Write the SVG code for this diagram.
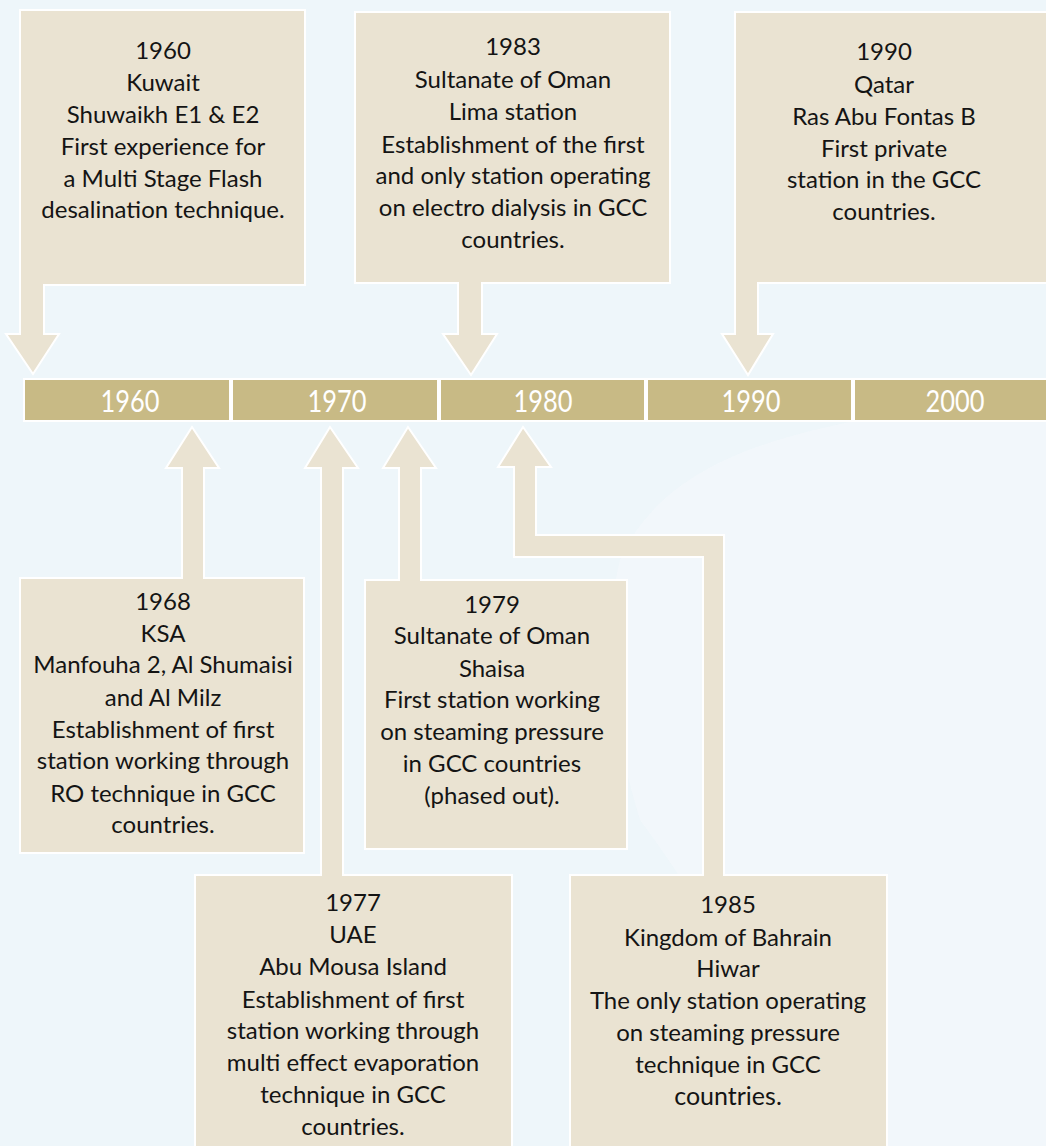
<svg xmlns="http://www.w3.org/2000/svg" width="1046" height="1146" viewBox="0 0 1046 1146">
<style>
.bg{fill:#EEF6FA}
.map{fill:#F5F9FB;opacity:0.6}
.call{fill:#EAE3D2;stroke:#FFFFFF;stroke-width:2;stroke-linejoin:miter}
.seg{fill:#C8BA85;stroke:#FFFFFF;stroke-width:2}
.t{font-family:Lato,"Open Sans","Liberation Sans",sans-serif;font-size:24px;fill:#141414;text-anchor:middle}
.y{font-family:Lato,"Open Sans","Liberation Sans",sans-serif;font-size:31px;font-weight:400;fill:#FFFFFF;text-anchor:middle}
</style>
<rect class="bg" x="0" y="0" width="1046" height="1146"/>
<path class="map" d="M620,560 C660,470 760,440 860,420 L1046,420 L1046,1146 L780,1146 C760,1000 700,900 640,820 C610,720 600,640 620,560 Z"/>
<g id="connectors"></g>
<g id="timeline">
<rect class="seg" x="24" y="379" width="206" height="42"/>
<rect class="seg" x="232" y="379" width="206" height="42"/>
<rect class="seg" x="440" y="379" width="205" height="42"/>
<rect class="seg" x="647" y="379" width="205" height="42"/>
<rect class="seg" x="854" y="379" width="194" height="42"/>
<text class="y" transform="translate(130,412) scale(0.82,1)">1960</text>
<text class="y" transform="translate(337,412) scale(0.82,1)">1970</text>
<text class="y" transform="translate(543,412) scale(0.82,1)">1980</text>
<text class="y" transform="translate(751,412) scale(0.82,1)">1990</text>
<text class="y" transform="translate(955,412) scale(0.82,1)">2000</text>
</g>
<g id="n1960">
<path class="call" d="M20,10 H305 V285 H44 V334 H59 L33,374 L6,334 H20 Z"/>
<text class="t"><tspan x="163" y="59">1960</tspan><tspan x="163" y="91">Kuwait</tspan><tspan x="163" y="123">Shuwaikh E1 &amp; E2</tspan><tspan x="163" y="155">First experience for</tspan><tspan x="163" y="187">a Multi Stage Flash</tspan><tspan x="163" y="218">desalination technique.</tspan></text>
</g>
<g id="n1983">
<path class="call" d="M355,12 H670 V283 H482 V334 H497 L471,375 L443,334 H458 V283 H355 Z"/>
<text class="t"><tspan x="513" y="55">1983</tspan><tspan x="513" y="88">Sultanate of Oman</tspan><tspan x="513" y="120">Lima station</tspan><tspan x="513" y="153">Establishment of the first</tspan><tspan x="513" y="184">and only station operating</tspan><tspan x="513" y="216">on electro dialysis in GCC</tspan><tspan x="513" y="248">countries.</tspan></text>
</g>
<g id="n1990">
<path class="call" d="M735,12 H1048 V283 H758 V334 H773 L748,375 L722,334 H735 Z"/>
<text class="t"><tspan x="884" y="60">1990</tspan><tspan x="884" y="93">Qatar</tspan><tspan x="884" y="125">Ras Abu Fontas B</tspan><tspan x="884" y="157">First private</tspan><tspan x="884" y="188">station in the GCC</tspan><tspan x="884" y="220">countries.</tspan></text>
</g>
<g id="n1968">
<path class="call" d="M20,578 H182 V468 H166 L192,427 L219,468 H204 V578 H304 V853 H20 Z"/>
<text class="t"><tspan x="163" y="610">1968</tspan><tspan x="163" y="642">KSA</tspan><tspan x="163" y="673">Manfouha 2, Al Shumaisi</tspan><tspan x="163" y="706">and Al Milz</tspan><tspan x="163" y="738">Establishment of first</tspan><tspan x="163" y="769">station working through</tspan><tspan x="163" y="802">RO technique in GCC</tspan><tspan x="163" y="833">countries.</tspan></text>
</g>
<g id="n1979">
<path class="call" d="M365,580 H399 V468 H383 L408,427 L436,468 H421 V580 H627 V849 H365 Z"/>
<text class="t"><tspan x="492" y="613">1979</tspan><tspan x="492" y="644">Sultanate of Oman</tspan><tspan x="492" y="677">Shaisa</tspan><tspan x="492" y="708">First station working</tspan><tspan x="492" y="740">on steaming pressure</tspan><tspan x="492" y="772">in GCC countries</tspan><tspan x="492" y="804">(phased out).</tspan></text>
</g>
<g id="n1977">
<path class="call" d="M195,875 H321 V468 H305 L330,427 L358,468 H343 V875 H512 V1150 H195 Z"/>
<text class="t"><tspan x="353" y="911">1977</tspan><tspan x="353" y="943">UAE</tspan><tspan x="353" y="975">Abu Mousa Island</tspan><tspan x="353" y="1008">Establishment of first</tspan><tspan x="353" y="1039">station working through</tspan><tspan x="353" y="1071">multi effect evaporation</tspan><tspan x="353" y="1103">technique in GCC</tspan><tspan x="353" y="1135">countries.</tspan></text>
</g>
<g id="n1985">
<path class="call" d="M570,875 H703 V557 H514 V467 H498 L523,427 L551,467 H536 V535 H724 V875 H887 V1150 H570 Z"/>
<text class="t"><tspan x="728" y="913">1985</tspan><tspan x="728" y="946">Kingdom of Bahrain</tspan><tspan x="728" y="977">Hiwar</tspan><tspan x="728" y="1009">The only station operating</tspan><tspan x="728" y="1041">on steaming pressure</tspan><tspan x="728" y="1073">technique in GCC</tspan><tspan x="728" y="1105" style="font-size:25px">countries.</tspan></text>
</g>
</svg>
